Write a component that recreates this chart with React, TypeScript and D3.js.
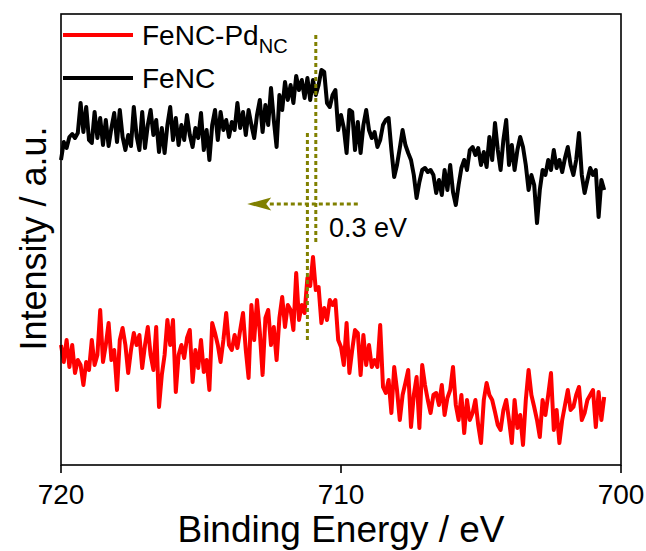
import React from "react";
import * as d3 from "d3";

// Fe 2p XPS region, binding energy grid (eV)
const energyStart = 720;
const energyStep = -0.1;

// FeNC intensity (a.u.)
const fenc = [
  305, 323, 317, 328, 331, 327, 332, 362, 333, 358,
  325, 322, 353, 327, 347, 320, 345, 319, 337, 352,
  323, 355, 328, 315, 330, 319, 358, 329, 315, 353,
  317, 340, 355, 330, 345, 313, 337, 312, 340, 358,
  325, 347, 320, 340, 325, 350, 330, 318, 337, 327,
  352, 315, 335, 305, 340, 355, 325, 353, 335, 345,
  328, 343, 335, 362, 337, 353, 330, 355, 340, 327,
  350, 365, 333, 360, 340, 377, 345, 318, 370, 355,
  383, 365, 380, 362, 389, 375, 385, 367, 387, 365,
  385, 370, 380, 395, 393, 362, 358, 370, 375, 335,
  350, 337, 312, 355, 353, 315, 343, 312, 340, 355,
  335, 327, 333, 318, 325, 340, 345, 347, 315, 288,
  300, 317, 335, 320, 312, 305, 290, 267, 283, 295,
  297, 293, 295, 290, 272, 285, 270, 295, 275, 300,
  273, 260, 280, 297, 305, 295, 315, 318, 310, 317,
  300, 313, 298, 328, 305, 342, 315, 295, 325, 345,
  300, 320, 295, 315, 328, 318, 300, 275, 290, 280,
  242, 275, 295, 290, 305, 295, 315, 297, 305, 293,
  307, 318, 300, 290, 305, 332, 290, 272, 285, 297,
  290, 295, 248, 285, 275,
];

// FeNC-Pd_NC intensity (a.u.)
const fencPd = [
  120, 103, 125, 98, 120, 92, 105, 100, 80, 103,
  95, 125, 100, 110, 155, 103, 120, 142, 105, 115,
  75, 125, 137, 120, 92, 115, 132, 120, 130, 97,
  120, 138, 110, 95, 138, 58, 90, 110, 145, 120,
  145, 73, 110, 120, 107, 127, 135, 83, 115, 97,
  125, 93, 105, 75, 142, 132, 120, 103, 125, 152,
  120, 115, 130, 117, 135, 152, 115, 87, 160, 125,
  165, 133, 90, 147, 155, 120, 138, 105, 147, 168,
  138, 160, 155, 135, 192, 145, 160, 152, 187, 179,
  208, 175, 178, 142, 157, 145, 165, 160, 165, 125,
  118, 100, 142, 92, 115, 135, 132, 90, 130, 100,
  120, 98, 105, 98, 140, 78, 72, 85, 52, 98,
  75, 45, 70, 82, 95, 38, 70, 88, 37, 100,
  80, 65, 52, 70, 72, 60, 80, 50, 67, 75,
  98, 60, 45, 70, 32, 65, 45, 52, 65, 40,
  22, 65, 82, 70, 65, 53, 40, 35, 55, 65,
  45, 22, 65, 37, 50, 20, 65, 95, 70, 58,
  45, 28, 65, 50, 70, 92, 35, 55, 22, 45,
  60, 75, 55, 58, 70, 78, 45, 52, 65, 70,
  75, 38, 73, 45, 68,
];

const xTicks = [720, 710, 700];
const seriesNames = ["FeNC-Pd", "FeNC"];
const seriesColors = ["#ff0000", "#000000"];

// Peak markers: FeNC peak and FeNC-Pd_NC peak, with the shift arrow
const peakEnergies = [710.9, 711.2];
const peakSpans = [
  [222, 430],
  [123, 332],
];
const shiftArrow = { from: 709.4, to: 713.35, level: 261 };
const shiftLabel = "0.3 eV";

const W = 646;
const H = 551;
const plot = { left: 61, right: 621, top: 14, bottom: 465 };
const font = "'Liberation Sans', Arial, Helvetica, sans-serif";
const olive = "#808000";

export default function App() {
  const x = d3.scaleLinear().domain([720, 700]).range([plot.left, plot.right]);
  const y = d3.scaleLinear().domain([0, 451]).range([plot.bottom, plot.top]);

  const toPoints = (vals: number[]) =>
    vals.map((v, i) => [energyStart + i * energyStep, v] as [number, number]);

  const line = d3
    .line<[number, number]>()
    .x((d) => x(d[0]))
    .y((d) => y(d[1]))
    .curve(d3.curveLinear);

  const arrowTip = x(shiftArrow.to);
  const arrowY = y(shiftArrow.level);

  return (
    <div style={{ position: "absolute", left: 0, top: 0 }}>
      <svg width={W} height={H} style={{ display: "block", background: "#fff" }}>
        <rect x={0} y={0} width={W} height={H} fill="#fff" />

        {/* spectra */}
        <path
          d={line(toPoints(fencPd)) || ""}
          fill="none"
          stroke={seriesColors[0]}
          strokeWidth={4}
          strokeLinejoin="round"
        />
        <path
          d={line(toPoints(fenc)) || ""}
          fill="none"
          stroke={seriesColors[1]}
          strokeWidth={4}
          strokeLinejoin="round"
        />

        {/* peak position guides */}
        {peakEnergies.map((e, i) => (
          <line
            key={"pk" + i}
            x1={x(e)}
            x2={x(e)}
            y1={y(peakSpans[i][1])}
            y2={y(peakSpans[i][0])}
            stroke={olive}
            strokeWidth={3}
            strokeDasharray="4,3"
          />
        ))}
        <line
          x1={x(shiftArrow.from)}
          x2={arrowTip + 20}
          y1={arrowY}
          y2={arrowY}
          stroke={olive}
          strokeWidth={3}
          strokeDasharray="4,3"
        />
        <path
          d={`M${arrowTip},${arrowY} L${arrowTip + 24},${arrowY - 6.5} L${arrowTip + 19},${arrowY} L${arrowTip + 24},${arrowY + 6.5} Z`}
          fill={olive}
        />
        <text
          x={x(710.43)}
          y={y(228)}
          fontFamily={font}
          fontSize={27}
          fill="#000"
        >
          {shiftLabel}
        </text>

        {/* frame */}
        <rect
          x={plot.left}
          y={plot.top}
          width={plot.right - plot.left}
          height={plot.bottom - plot.top}
          fill="none"
          stroke="#000"
          strokeWidth={1.6}
        />

        {/* x ticks */}
        {xTicks.map((t) => (
          <g key={t}>
            <line
              x1={x(t)}
              x2={x(t)}
              y1={plot.bottom}
              y2={plot.bottom + 8}
              stroke="#000"
              strokeWidth={1.6}
            />
            <text
              x={x(t)}
              y={504}
              textAnchor="middle"
              fontFamily={font}
              fontSize={28}
              fill="#000"
            >
              {t}
            </text>
          </g>
        ))}

        {/* axis titles */}
        <text
          x={(plot.left + plot.right) / 2}
          y={542}
          textAnchor="middle"
          fontFamily={font}
          fontSize={37}
          fill="#000"
        >
          Binding Energy / eV
        </text>
        <text
          transform={`translate(46, ${(plot.top + plot.bottom) / 2 - 1}) rotate(-90)`}
          textAnchor="middle"
          fontFamily={font}
          fontSize={36}
          fill="#000"
        >
          Intensity / a.u.
        </text>

        {/* legend */}
        {seriesNames.map((name, i) => {
          const ly = 35 + i * 43;
          return (
            <g key={name}>
              <line
                x1={63}
                x2={133}
                y1={ly}
                y2={ly}
                stroke={seriesColors[i]}
                strokeWidth={4}
              />
              <text x={142} y={ly + 10} fontFamily={font} fontSize={28} fill="#000">
                {name}
                {i === 0 ? (
                  <tspan fontSize={20} dy={8}>
                    NC
                  </tspan>
                ) : null}
              </text>
            </g>
          );
        })}
      </svg>
    </div>
  );
}
